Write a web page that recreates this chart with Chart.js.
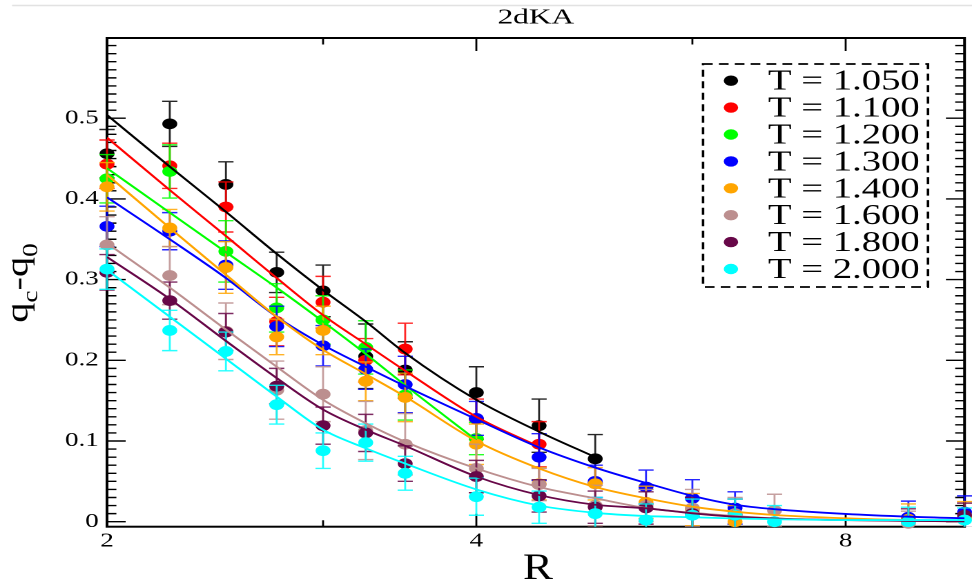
<!DOCTYPE html>
<html>
<head>
<meta charset="utf-8">
<script src="https://cdn.jsdelivr.net/npm/chart.js@4.4.1/dist/chart.umd.min.js"></script>
<style>
html,body{margin:0;padding:0;background:#ffffff;overflow:hidden;width:972px;height:582px;}
#wrap{position:absolute;left:0;top:0;width:704px;height:582px;transform:scaleX(1.380682);transform-origin:0 0;}
canvas{display:block;}
</style>
</head>
<body>
<div id="wrap"><canvas id="c" width="704" height="582" style="width:704px;height:582px"></canvas></div>
<script>
// ---- data ----
const R = [2, 2.25, 2.5, 2.75, 3, 3.25, 3.5, 4, 4.5, 5, 5.5, 6, 6.5, 7, 9, 10];
const fitR = [2, 2.25, 2.5, 2.75, 3, 3.25, 3.5, 4, 4.5, 5, 5.5, 6, 6.5, 7, 8, 9, 10];
const temps = ['T = 1.050', 'T = 1.100', 'T = 1.200', 'T = 1.300', 'T = 1.400', 'T = 1.600', 'T = 1.800', 'T = 2.000'];
const colors = ['#000000', '#ff0000', '#00ff00', '#0000ff', '#ffa500', '#bc8f8f', '#670748', '#00ffff'];

const q1050 = [0.456, 0.493, 0.418, 0.309, 0.286, 0.205, 0.188, 0.160, 0.119, 0.078, null, null, null, null, null, null];
const e1050 = [0.030, 0.028, 0.028, 0.025, 0.032, 0.040, 0.035, 0.032, 0.033, 0.030, null, null, null, null, null, null];
const q1100 = [0.443, 0.441, 0.390, 0.248, 0.272, 0.200, 0.214, 0.127, 0.096, null, null, null, null, null, null, null];
const e1100 = [0.030, 0.028, 0.031, 0.030, 0.032, 0.027, 0.032, 0.025, 0.028, null, null, null, null, null, null, null];
const q1200 = [0.425, 0.434, 0.335, 0.265, 0.250, 0.216, 0.157, 0.103, null, null, null, null, null, null, null, null];
const e1200 = [0.030, 0.033, 0.038, 0.030, 0.030, 0.033, 0.031, 0.020, null, null, null, null, null, null, null, null];
const q1300 = [0.366, 0.360, 0.318, 0.242, 0.218, 0.189, 0.170, 0.128, 0.080, 0.050, 0.043, 0.029, 0.017, null, 0.0055, 0.012];
const e1300 = [0.025, 0.023, 0.030, 0.025, 0.025, 0.025, 0.035, 0.021, 0.029, 0.020, 0.021, 0.023, 0.020, null, 0.020, 0.020];
const q1400 = [0.415, 0.364, 0.315, 0.229, 0.237, 0.174, 0.154, 0.096, 0.047, 0.047, 0.024, 0.015, 0.000, null, 0.003, 0.005];
const e1400 = [0.030, 0.023, 0.032, 0.022, 0.030, 0.024, 0.030, 0.025, 0.020, 0.020, 0.020, 0.020, 0.020, null, 0.019, 0.020];
const q1600 = [0.343, 0.305, 0.236, 0.163, 0.158, 0.113, 0.096, 0.066, 0.046, 0.020, 0.020, 0.017, 0.010, 0.014, -0.002, null];
const e1600 = [0.035, 0.036, 0.035, 0.036, 0.034, 0.036, 0.038, 0.030, 0.020, 0.025, 0.020, 0.023, 0.020, 0.020, 0.015, null];
const q1800 = [0.309, 0.274, 0.235, 0.168, 0.119, 0.110, 0.072, 0.056, 0.032, 0.018, 0.017, 0.010, 0.008, null, 0.001, 0.008];
const e1800 = [0.022, 0.023, 0.023, 0.022, 0.023, 0.023, 0.022, 0.020, 0.020, 0.020, 0.020, 0.020, 0.020, null, 0.015, 0.015];
const q2000 = [0.313, 0.237, 0.211, 0.145, 0.088, 0.098, 0.060, 0.031, 0.018, 0.010, 0.002, 0.008, 0.008, 0.000, 0.000, 0.002];
const e2000 = [0.025, 0.025, 0.024, 0.024, 0.022, 0.023, 0.021, 0.023, 0.020, 0.020, 0.020, 0.020, 0.020, 0.020, 0.018, 0.015];

// fitted curves
const f1050 = [0.504, 0.440, 0.384, 0.332, 0.287, 0.248, 0.209, 0.151, 0.1115, 0.080, null, null, null, null, null, null, null];
const f1100 = [0.476, 0.411, 0.354, 0.302, 0.256, 0.220, 0.187, 0.130, 0.093, null, null, null, null, null, null, null, null];
const f1200 = [0.438, 0.383, 0.334, 0.290, 0.248, 0.208, 0.169, 0.101, null, null, null, null, null, null, null, null, null];
const f1300 = [0.402, 0.350, 0.302, 0.254, 0.219, 0.192, 0.168, 0.127, 0.092, 0.067, 0.048, 0.032, 0.021, 0.0155, 0.0096, 0.0062, 0.0042];
const f1400 = [0.430, 0.364, 0.306, 0.254, 0.213, 0.183, 0.155, 0.100, 0.066, 0.043, 0.029, 0.0186, 0.0124, 0.0083, 0.0042, 0.002, 0.001];
const f1600 = [0.345, 0.290, 0.238, 0.192, 0.151, 0.122, 0.099, 0.066, 0.043, 0.029, 0.017, 0.011, 0.007, 0.004, 0.002, 0.001, 0.0005];
const f1800 = [0.328, 0.276, 0.224, 0.178, 0.139, 0.114, 0.094, 0.056, 0.033, 0.021, 0.0166, 0.0104, 0.0062, 0.004, 0.002, 0.001, 0.0005];
const f2000 = [0.312, 0.254, 0.202, 0.155, 0.114, 0.091, 0.072, 0.040, 0.020, 0.011, 0.007, 0.0055, 0.004, 0.003, 0.002, 0.002, 0.002];

const xMajor = [2, 4, 8];
const xMinor = [3, 6];
const yMajor = [0, 0.1, 0.2, 0.3, 0.4, 0.5];

const values = [q1050, q1100, q1200, q1300, q1400, q1600, q1800, q2000];
const errors = [e1050, e1100, e1200, e1300, e1400, e1600, e1800, e2000];
const fits = [f1050, f1100, f1200, f1300, f1400, f1600, f1800, f2000];

const SERIF = '"Liberation Serif", "Times New Roman", serif';

// ---- datasets ----
const datasets = [];
values.forEach((vals, i) => {
  datasets.push({
    type: 'scatter',
    label: temps[i],
    errIdx: i,
    data: R.map((r, j) => vals[j] === null ? null : {x: r, y: vals[j]}).filter(p => p !== null),
    backgroundColor: colors[i],
    borderWidth: 0,
    pointRadius: 5.4,
    pointHoverRadius: 5.4,
    showLine: false,
    clip: false,
    order: 30 - i
  });
});
fits.forEach((f, i) => {
  datasets.push({
    type: 'scatter',
    label: 'fit ' + temps[i],
    isFit: true,
    data: fitR.map((r, j) => f[j] === null ? null : {x: r, y: f[j]}).filter(p => p !== null),
    borderColor: colors[i],
    backgroundColor: colors[i],
    borderWidth: 1.8,
    pointRadius: 0,
    showLine: true,
    cubicInterpolationMode: 'monotone',
    order: 10 - i
  });
});

// ---- plugins ----
const errorBars = {
  id: 'errorBars',
  beforeDatasetDraw(chart, args) {
    const ds = chart.data.datasets[args.index];
    if (ds.errIdx === undefined) return;
    const i = ds.errIdx, vals = values[i], errs = errors[i];
    const xs = chart.scales.x, ys = chart.scales.y, ca = chart.chartArea, ctx = chart.ctx;
    ctx.save();
    ctx.beginPath();
    ctx.rect(0, ca.top, chart.width, ca.bottom - ca.top);
    ctx.clip();
    ctx.strokeStyle = colors[i];
    ctx.globalAlpha = 0.85;
    ctx.lineWidth = 1.4;
    const hw = 5.5;
    for (let j = 0; j < R.length; j++) {
      if (vals[j] === null || errs[j] === null) continue;
      const x = xs.getPixelForValue(R[j]);
      const y1 = ys.getPixelForValue(vals[j] + errs[j]);
      const y2 = ys.getPixelForValue(vals[j] - errs[j]);
      ctx.beginPath();
      ctx.moveTo(x, y1); ctx.lineTo(x, y2);
      ctx.moveTo(x - hw, y1); ctx.lineTo(x + hw, y1);
      ctx.moveTo(x - hw, y2); ctx.lineTo(x + hw, y2);
      ctx.stroke();
    }
    ctx.restore();
  }
};

const frame = {
  id: 'frame',
  beforeDatasetsDraw(chart) {
    const ctx = chart.ctx, ca = chart.chartArea, xs = chart.scales.x, ys = chart.scales.y;
    ctx.save();
    ctx.strokeStyle = '#000';
    ctx.lineWidth = 1.4;
    ctx.beginPath();
    // y ticks, left and right, inward
    for (let k = 0; k <= 59; k++) {
      const v = k / 100;
      const y = ys.getPixelForValue(v);
      const isMajor = k % 10 === 0;
      const len = isMajor ? 13.5 : 6.8;
      ctx.moveTo(ca.left, y); ctx.lineTo(ca.left + len, y);
      ctx.moveTo(ca.right, y); ctx.lineTo(ca.right - len, y);
    }
    // x ticks, bottom and top, inward
    xMajor.concat(xMinor).forEach(v => {
      const x = xs.getPixelForValue(v);
      const len = xMajor.includes(v) ? 13 : 6.5;
      ctx.moveTo(x, ca.bottom); ctx.lineTo(x, ca.bottom - len);
      ctx.moveTo(x, ca.top); ctx.lineTo(x, ca.top + len);
    });
    ctx.stroke();
    ctx.lineWidth = 2;
    ctx.strokeRect(ca.left, ca.top, ca.right - ca.left, ca.bottom - ca.top);
    ctx.restore();
  },
  afterDraw(chart) {
    const ctx = chart.ctx, ca = chart.chartArea;
    ctx.save();
    // faint rule at the very top
    ctx.strokeStyle = '#e2e2e2';
    ctx.lineWidth = 1.5;
    ctx.beginPath(); ctx.moveTo(8.7, 5.5); ctx.lineTo(chart.width, 5.5); ctx.stroke();

    ctx.fillStyle = '#000';
    // title
    const cx = (ca.left + ca.right) / 2;
    ctx.font = '21px ' + SERIF;
    ctx.textAlign = 'center'; ctx.textBaseline = 'alphabetic';
    ctx.save(); ctx.translate(cx, 23.5); ctx.scale(1.08, 1); ctx.fillText('2dKA', 0, 0); ctx.restore();

    // x axis title
    ctx.font = '37px ' + SERIF;
    ctx.save(); ctx.translate(cx + 1.5, 579); ctx.scale(0.88, 1); ctx.fillText('R', 0, 0); ctx.restore();

    // y axis title q_c - q_0
    const parts = [
      {t: 'q', f: 31, dy: 0}, {t: 'c', f: 21, dy: 9}, {t: '-', f: 31, dy: 0},
      {t: 'q', f: 31, dy: 0}, {t: '0', f: 21, dy: 9}
    ];
    let total = 0;
    parts.forEach(p => { ctx.font = p.f + 'px ' + SERIF; p.w = ctx.measureText(p.t).width; total += p.w; });
    ctx.save();
    ctx.translate(20, 283);
    ctx.rotate(-Math.PI / 2);
    ctx.scale(1.3, 0.75);
    ctx.textAlign = 'left';
    let px = -total / 2;
    parts.forEach(p => { ctx.font = p.f + 'px ' + SERIF; ctx.fillText(p.t, px, p.dy); px += p.w; });
    ctx.restore();

    // legend
    const lx0 = 509.2, ly0 = 64, lx1 = 672.1, ly1 = 287;
    ctx.setLineDash([7, 4.5]);
    ctx.lineWidth = 1.8;
    ctx.strokeStyle = '#000';
    ctx.strokeRect(lx0, ly0, lx1 - lx0, ly1 - ly0);
    ctx.setLineDash([]);
    ctx.font = '28px ' + SERIF;
    ctx.textAlign = 'left';
    chart.data.datasets.forEach(ds => {
      if (ds.errIdx === undefined) return;
      const i = ds.errIdx;
      const y = 80.7 + 26.9 * i;
      ctx.fillStyle = ds.backgroundColor;
      ctx.beginPath(); ctx.arc(529.4, y, 5.2, 0, Math.PI * 2); ctx.fill();
      ctx.fillStyle = '#000';
      ctx.fillText(ds.label, 556.2, y + 9);
    });
    ctx.restore();
  }
};

new Chart(document.getElementById('c'), {
  data: {datasets: datasets},
  options: {
    responsive: false,
    devicePixelRatio: 2,
    animation: false,
    events: [],
    layout: {padding: {top: 38, left: 0, right: 1.5, bottom: 0}},
    plugins: {legend: {display: false}, title: {display: false}, tooltip: {enabled: false}},
    scales: {
      x: {
        type: 'logarithmic', position: 'bottom', min: 2, max: 10,
        afterBuildTicks(s) { s.ticks = xMajor.map(v => ({value: v})); },
        afterFit(s) { s.height = 55.3; },
        grid: {display: false, drawTicks: false},
        border: {display: false},
        ticks: {
          color: '#000', font: {family: SERIF, size: 19.5}, padding: 3,
          maxRotation: 0, autoSkip: false,
          callback: v => String(v)
        }
      },
      y: {
        type: 'linear', position: 'left', min: -0.0062, max: 0.5994,
        afterBuildTicks(s) { s.ticks = yMajor.map(v => ({value: v})); },
        afterFit(s) { s.width = 77.5; },
        grid: {display: false, drawTicks: false},
        border: {display: false},
        ticks: {
          color: '#000', font: {family: SERIF, size: 19.5}, padding: 6,
          callback: v => v === 0 ? '0' : Number(v).toFixed(1)
        }
      }
    }
  },
  plugins: [errorBars, frame]
});
</script>
</body>
</html>
